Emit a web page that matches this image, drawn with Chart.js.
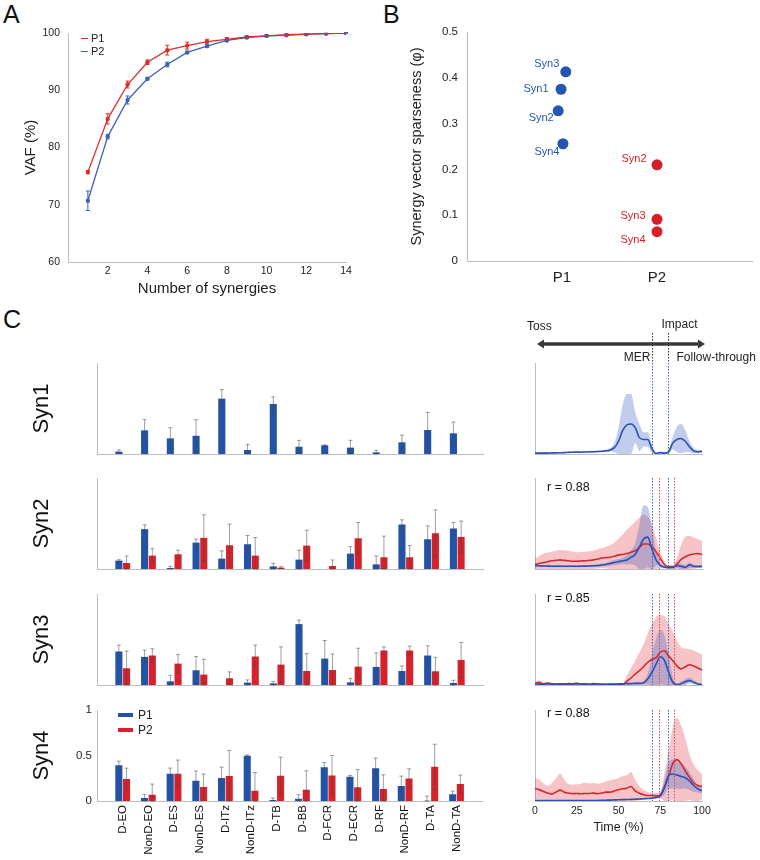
<!DOCTYPE html>
<html>
<head>
<meta charset="utf-8">
<script src="https://cdn.jsdelivr.net/npm/chart.js@4.4.1/dist/chart.umd.min.js"></script>
<style>
  body { margin: 0; background: #fff; font-family: 'Liberation Sans', Arial, Helvetica, sans-serif; color: #222; }
  #fig { position: relative; width: 760px; height: 860px; overflow: hidden; }
  #fig canvas { position: absolute; }
  .lbl { position: absolute; white-space: nowrap; line-height: 1; }
  .panel { font-size: 25px; color: #111; }
  .key { position: absolute; display: flex; align-items: center; line-height: 1; white-space: nowrap; }
  .key i { display: inline-block; }
</style>
</head>
<body>
<div id="fig">
  <div class="lbl panel" style="left:3px;top:2px">A</div>
  <div class="lbl panel" style="left:383px;top:2px">B</div>
  <div class="lbl panel" style="left:3px;top:307px">C</div>

  <canvas id="vafChart" width="370" height="300" style="left:0;top:0"></canvas>
  <canvas id="sparseChart" width="380" height="300" style="left:380px;top:0"></canvas>

  <canvas id="w1Chart" width="500" height="110" style="left:0;top:350px"></canvas>
  <canvas id="w2Chart" width="500" height="110" style="left:0;top:465px"></canvas>
  <canvas id="w3Chart" width="500" height="110" style="left:0;top:581px"></canvas>
  <canvas id="w4Chart" width="500" height="163" style="left:0;top:697px"></canvas>

  <canvas id="c1Chart" width="260" height="150" style="left:500px;top:310px"></canvas>
  <canvas id="c2Chart" width="260" height="110" style="left:500px;top:465px"></canvas>
  <canvas id="c3Chart" width="260" height="110" style="left:500px;top:581px"></canvas>
  <canvas id="c4Chart" width="260" height="163" style="left:500px;top:697px"></canvas>

  <div class="key" style="left:81px;top:33px;font-size:11px"><i style="width:7px;height:1.5px;background:#dc2d2d;margin-right:3px"></i>P1</div>
  <div class="key" style="left:81px;top:46px;font-size:11px"><i style="width:7px;height:1.5px;background:#3d62b8;margin-right:3px"></i>P2</div>

  <div class="key" style="left:118px;top:709px;font-size:12px"><i style="width:15px;height:4px;background:#2353a6;margin-right:5px"></i>P1</div>
  <div class="key" style="left:118px;top:724px;font-size:12px"><i style="width:15px;height:4px;background:#d7222b;margin-right:5px"></i>P2</div>
</div>

<script>
// ---- A: VAF vs number of synergies
const nSyn = [1, 2, 3, 4, 5, 6, 7, 8, 9, 10, 11, 12, 13, 14];
const vafP1 = [75.7, 85.0, 91.0, 94.9, 97.0, 97.8, 98.5, 98.9, 99.3, 99.5, 99.7, 99.8, 99.9, 100];
const vafP1Err = [0.3, 0.9, 0.6, 0.4, 0.85, 0.6, 0.4, 0.3, 0.2, 0.15, 0.1, 0.1, 0.05, 0.05];
const vafP2 = [70.7, 81.9, 88.3, 92.0, 94.5, 96.6, 97.7, 98.7, 99.2, 99.5, 99.6, 99.8, 99.9, 100];
const vafP2Err = [1.7, 0.4, 0.7, 0.2, 0.4, 0.2, 0.2, 0.15, 0.1, 0.1, 0.05, 0.05, 0.05, 0.02];

// ---- B: sparseness (Syn1..Syn4), P2 has no Syn1
const synNames = ["Syn1", "Syn2", "Syn3", "Syn4"];
const groupLabels = ["", "P1", "P2", ""];
const sparseP1 = [0.375, 0.328, 0.413, 0.256];
const sparseP1Jitter = [-0.01, -0.04, 0.04, 0.01];
const sparseP2 = [null, 0.210, 0.091, 0.064];
const sparseP2Jitter = [0, 0, 0, 0];

// ---- C: synergy weights
const muscles = ["D-EO", "NonD-EO", "D-ES", "NonD-ES", "D-ITz", "NonD-ITz", "D-TB", "D-BB", "D-FCR", "D-ECR", "D-RF", "NonD-RF", "D-TA", "NonD-TA"];

const w1P1 = [0.026, 0.26, 0.172, 0.2, 0.608, 0.044, 0.55, 0.08, 0.095, 0.07, 0.018, 0.128, 0.264, 0.227];
const w1P1Sd = [0.02, 0.117, 0.117, 0.177, 0.1, 0.062, 0.077, 0.07, 0.005, 0.08, 0.022, 0.08, 0.194, 0.125];

const w2P1 = [0.092, 0.438, 0.011, 0.29, 0.114, 0.272, 0.029, 0.103, null, 0.169, 0.051, 0.489, 0.327, 0.445];
const w2P1Sd = [0.01, 0.048, 0.018, 0.037, 0.085, 0.096, 0.033, 0.103, null, 0.077, 0.092, 0.051, 0.147, 0.066];
const w2P2 = [0.066, 0.147, 0.162, 0.342, 0.261, 0.147, 0.015, 0.257, 0.033, 0.338, 0.129, 0.129, 0.393, 0.353];
const w2P2Sd = [0.077, 0.077, 0.044, 0.254, 0.232, 0.199, 0.011, 0.169, 0.066, 0.173, 0.232, 0.129, 0.257, 0.173];

const w3P1 = [0.368, 0.309, 0.04, 0.162, null, 0.026, 0.018, 0.669, 0.29, 0.029, 0.199, 0.154, 0.324, 0.022];
const w3P1Sd = [0.07, 0.074, 0.066, 0.15, null, 0.03, 0.022, 0.044, 0.199, 0.044, 0.154, 0.055, 0.107, 0.03];
const w3P2 = [0.184, 0.324, 0.235, 0.114, 0.074, 0.313, 0.224, 0.154, 0.165, 0.202, 0.379, 0.379, 0.151, 0.276];
const w3P2Sd = [0.188, 0.074, 0.099, 0.169, 0.07, 0.125, 0.195, 0.191, 0.176, 0.202, 0.04, 0.048, 0.154, 0.191];

const w4P1 = [0.394, 0.033, 0.3, 0.223, 0.252, 0.496, 0.011, 0.026, 0.372, 0.266, 0.361, 0.164, 0.003, 0.073];
const w4P1Sd = [0.044, 0.04, 0.062, 0.106, 0.12, 0.011, 0.022, 0.044, 0.051, 0.015, 0.11, 0.11, 0.05, 0.036];
const w4P2 = [0.241, 0.069, 0.3, 0.153, 0.274, 0.113, 0.277, 0.124, 0.281, 0.15, 0.131, 0.248, 0.376, 0.186];
const w4P2Sd = [0.12, 0.117, 0.15, 0.142, 0.281, 0.2, 0.204, 0.208, 0.219, 0.197, 0.157, 0.106, 0.248, 0.099];

// ---- C: activation coefficients over the serve (time in %)
const timePct = [0, 2.5, 5, 7.5, 10, 12.5, 15, 17.5, 20, 22.5, 25, 27.5, 30, 32.5, 35, 37.5, 40, 42.5, 45, 47.5,
  50, 52.5, 55, 57.5, 60, 62.5, 65, 67.5, 70, 72.5, 75, 77.5, 80, 82.5, 85, 87.5, 90, 92.5, 95, 97.5, 100];

const c1P1 = [0.010, 0.010, 0.010, 0.010, 0.012, 0.012, 0.014, 0.015, 0.018, 0.020, 0.022, 0.020, 0.022, 0.024, 0.025, 0.027, 0.030, 0.035, 0.045, 0.070,
  0.140, 0.260, 0.320, 0.330, 0.290, 0.180, 0.160, 0.160, 0.060, 0.005, 0.015, 0.010, 0.025, 0.120, 0.160, 0.170, 0.140, 0.080, 0.035, 0.025, 0.030];
const c1P1Sd = [0.005, 0.005, 0.005, 0.005, 0.005, 0.005, 0.006, 0.006, 0.008, 0.008, 0.010, 0.008, 0.008, 0.010, 0.010, 0.010, 0.012, 0.015, 0.020, 0.050,
  0.150, 0.280, 0.340, 0.330, 0.170, 0.150, 0.080, 0.080, 0.050, 0.010, 0.010, 0.010, 0.020, 0.070, 0.140, 0.160, 0.120, 0.060, 0.030, 0.020, 0.020];

const c2P1 = [0.037, 0.035, 0.033, 0.032, 0.030, 0.030, 0.030, 0.030, 0.030, 0.030, 0.030, 0.030, 0.032, 0.033, 0.035, 0.038, 0.044, 0.050, 0.060, 0.072,
  0.080, 0.090, 0.100, 0.130, 0.160, 0.240, 0.330, 0.350, 0.220, 0.100, 0.040, 0.020, 0.015, 0.015, 0.040, 0.030, 0.020, 0.045, 0.030, 0.028, 0.030];
const c2P1Sd = [0.010, 0.010, 0.010, 0.010, 0.010, 0.010, 0.010, 0.010, 0.010, 0.010, 0.010, 0.010, 0.010, 0.012, 0.012, 0.014, 0.016, 0.020, 0.025, 0.030,
  0.030, 0.035, 0.050, 0.080, 0.120, 0.250, 0.370, 0.330, 0.240, 0.100, 0.030, 0.015, 0.010, 0.010, 0.030, 0.030, 0.020, 0.030, 0.020, 0.015, 0.015];
const c2P2 = [0.050, 0.060, 0.070, 0.080, 0.090, 0.095, 0.100, 0.095, 0.090, 0.085, 0.085, 0.088, 0.090, 0.095, 0.100, 0.110, 0.120, 0.125, 0.130, 0.140,
  0.155, 0.160, 0.170, 0.185, 0.200, 0.235, 0.275, 0.275, 0.245, 0.190, 0.120, 0.050, 0.026, 0.026, 0.055, 0.105, 0.135, 0.155, 0.165, 0.170, 0.160];
const c2P2Sd = [0.070, 0.080, 0.100, 0.100, 0.100, 0.105, 0.110, 0.110, 0.110, 0.105, 0.100, 0.100, 0.100, 0.100, 0.100, 0.105, 0.110, 0.120, 0.130, 0.150,
  0.180, 0.220, 0.260, 0.290, 0.320, 0.330, 0.320, 0.300, 0.250, 0.150, 0.070, 0.030, 0.010, 0.010, 0.070, 0.160, 0.220, 0.210, 0.180, 0.160, 0.150];

const c3P1 = [0.012, 0.010, 0.010, 0.012, 0.010, 0.008, 0.010, 0.012, 0.010, 0.010, 0.012, 0.010, 0.010, 0.008, 0.010, 0.010, 0.008, 0.008, 0.010, 0.010,
  0.012, 0.012, 0.015, 0.015, 0.018, 0.018, 0.025, 0.066, 0.140, 0.230, 0.310, 0.270, 0.140, 0.030, 0.005, 0.015, 0.036, 0.048, 0.030, 0.012, 0.005];
const c3P1Sd = [0.008, 0.008, 0.008, 0.008, 0.008, 0.008, 0.008, 0.008, 0.008, 0.008, 0.008, 0.008, 0.008, 0.008, 0.008, 0.008, 0.008, 0.008, 0.008, 0.008,
  0.010, 0.010, 0.010, 0.010, 0.012, 0.012, 0.020, 0.060, 0.180, 0.280, 0.300, 0.280, 0.200, 0.060, 0.010, 0.020, 0.030, 0.035, 0.025, 0.010, 0.005];
const c3P2 = [0.018, 0.030, 0.012, 0.022, 0.012, 0.008, 0.012, 0.004, 0.015, 0.012, 0.018, 0.008, 0.012, 0.004, 0.015, 0.008, 0.008, 0.004, 0.004, 0.002,
  0.002, 0.004, 0.040, 0.077, 0.120, 0.157, 0.200, 0.250, 0.280, 0.300, 0.360, 0.377, 0.320, 0.267, 0.210, 0.176, 0.200, 0.223, 0.210, 0.187, 0.165];
const c3P2Sd = [0.015, 0.020, 0.015, 0.015, 0.012, 0.010, 0.012, 0.010, 0.012, 0.010, 0.012, 0.010, 0.010, 0.008, 0.012, 0.010, 0.008, 0.008, 0.006, 0.005,
  0.005, 0.010, 0.060, 0.110, 0.150, 0.200, 0.250, 0.320, 0.390, 0.450, 0.410, 0.380, 0.350, 0.320, 0.280, 0.240, 0.200, 0.170, 0.170, 0.170, 0.170];

const c4P1 = [0.004, 0.004, 0.004, 0.004, 0.004, 0.004, 0.004, 0.004, 0.004, 0.004, 0.004, 0.004, 0.004, 0.005, 0.006, 0.006, 0.008, 0.009, 0.010, 0.012,
  0.014, 0.015, 0.016, 0.018, 0.020, 0.022, 0.025, 0.027, 0.030, 0.040, 0.060, 0.150, 0.280, 0.296, 0.285, 0.270, 0.256, 0.220, 0.170, 0.134, 0.112];
const c4P1Sd = [0.003, 0.003, 0.003, 0.003, 0.003, 0.003, 0.003, 0.003, 0.003, 0.003, 0.003, 0.003, 0.003, 0.003, 0.003, 0.003, 0.003, 0.003, 0.003, 0.003,
  0.005, 0.005, 0.005, 0.005, 0.005, 0.005, 0.005, 0.005, 0.010, 0.015, 0.030, 0.080, 0.140, 0.160, 0.150, 0.140, 0.120, 0.100, 0.070, 0.040, 0.030];
const c4P2 = [0.134, 0.125, 0.105, 0.087, 0.076, 0.097, 0.120, 0.097, 0.087, 0.080, 0.083, 0.080, 0.083, 0.082, 0.087, 0.080, 0.087, 0.097, 0.097, 0.110,
  0.123, 0.134, 0.140, 0.160, 0.110, 0.085, 0.070, 0.060, 0.060, 0.058, 0.060, 0.150, 0.270, 0.410, 0.455, 0.410, 0.330, 0.260, 0.200, 0.170, 0.160];
const c4P2Sd = [0.120, 0.110, 0.090, 0.080, 0.120, 0.150, 0.180, 0.140, 0.100, 0.100, 0.100, 0.110, 0.120, 0.110, 0.110, 0.110, 0.110, 0.120, 0.130, 0.130,
  0.130, 0.140, 0.145, 0.160, 0.120, 0.080, 0.050, 0.040, 0.030, 0.030, 0.030, 0.160, 0.280, 0.400, 0.460, 0.420, 0.360, 0.250, 0.200, 0.170, 0.140];

// event times (% of serve)
const merP1 = 70, impP1 = 79.5, merP2 = 74.5, impP2 = 83;
const corrR = ["0.88", "0.85", "0.88"];

// ---- styling
const FONT = "'Liberation Sans', Arial, Helvetica, sans-serif";
const axisGray = "#bdbdbd";
const blueBar = "#2353a6", redBar = "#d7222b";
const blueLine = "#2b4fb3", redLine = "#d8262c";
const blueBand = "rgba(60,100,200,0.32)", redBand = "rgba(225,60,70,0.30)";

Chart.defaults.font.family = FONT;
Chart.defaults.color = "#222";
Chart.defaults.animation = false;
Chart.defaults.events = [];
Chart.defaults.plugins.legend.display = false;
Chart.defaults.plugins.tooltip.enabled = false;

const noGrid = { display: false, drawTicks: false };
const axisLine = { display: true, color: axisGray, width: 1 };

// error bars from dataset.errors, drawn through the y scale
const errorBars = {
    id: "errorBars",
    afterDatasetsDraw(chart) {
        const ctx = chart.ctx;
        chart.data.datasets.forEach((ds, di) => {
            if (!ds.errors) return;
            const meta = chart.getDatasetMeta(di);
            const ys = chart.scales[meta.yAxisID];
            ctx.save();
            ctx.strokeStyle = ds.errorColor || "rgba(70,70,70,0.65)";
            ctx.lineWidth = ds.errorWidth || 0.8;
            meta.data.forEach((el, i) => {
                const raw = ds.data[i];
                const v = raw !== null && typeof raw === "object" ? raw.y : raw;
                const e = ds.errors[i];
                if (v == null || e == null) return;
                const y1 = ys.getPixelForValue(Math.max(ys.min, v - e));
                const y2 = ys.getPixelForValue(v + e);
                const x = el.x, c = ds.errorCap || 2;
                ctx.beginPath();
                ctx.moveTo(x, y1); ctx.lineTo(x, y2);
                ctx.moveTo(x - c, y2); ctx.lineTo(x + c, y2);
                ctx.moveTo(x - c, y1); ctx.lineTo(x + c, y1);
                ctx.stroke();
            });
            ctx.restore();
        });
    }
};

// ---- A
new Chart(document.getElementById("vafChart"), {
    type: "line",
    data: {
        datasets: [
            { data: nSyn.map((n, i) => ({ x: n, y: vafP1[i] })), errors: vafP1Err, errorColor: "#dc2d2d", errorWidth: 1,
              borderColor: "#dc2d2d", backgroundColor: "#dc2d2d", borderWidth: 1.3, pointRadius: 2.2, pointBorderWidth: 0 },
            { data: nSyn.map((n, i) => ({ x: n, y: vafP2[i] })), errors: vafP2Err, errorColor: "#3d62b8", errorWidth: 1,
              borderColor: "#3d62b8", backgroundColor: "#3d62b8", borderWidth: 1.3, pointRadius: 2.2, pointBorderWidth: 0 }
        ]
    },
    options: {
        responsive: false,
        layout: { padding: { top: 33, right: 24, left: 0, bottom: 0 } },
        scales: {
            x: {
                type: "linear", min: 0, max: 14,
                grid: noGrid, border: axisLine,
                ticks: { stepSize: 2, padding: 3, font: { size: 10.5 }, callback: v => v === 0 ? "" : v },
                title: { display: true, text: "Number of synergies", font: { size: 15 }, padding: { top: 0, bottom: 2 } },
                afterFit: s => { s.height = 38; }
            },
            y: {
                min: 60, max: 100,
                grid: noGrid, border: axisLine,
                ticks: { stepSize: 10, padding: 8, font: { size: 10.5 } },
                title: { display: true, text: "VAF (%)", font: { size: 15 }, padding: { top: 22, bottom: 0 } },
                afterFit: s => { s.width = 68; }
            }
        }
    },
    plugins: [errorBars]
});

// ---- B
const tagOffsets = {
    P1: { Syn1: [-25, 0], Syn2: [-17, 7], Syn3: [-19, -8], Syn4: [-16, 8] },
    P2: { Syn2: [-23, -6], Syn3: [-24, -3], Syn4: [-24, 8] }
};
const pointTags = {
    id: "pointTags",
    afterDatasetsDraw(chart) {
        const ctx = chart.ctx;
        ctx.save();
        ctx.font = "11px " + FONT;
        ctx.textAlign = "center";
        ctx.textBaseline = "middle";
        chart.data.datasets.forEach((ds, di) => {
            const meta = chart.getDatasetMeta(di);
            meta.data.forEach((pt, i) => {
                if (ds.data[i].y == null) return;
                const off = tagOffsets[ds.label][synNames[i]];
                ctx.fillStyle = ds.backgroundColor;
                ctx.fillText(synNames[i], pt.x + off[0], pt.y + off[1]);
            });
        });
        ctx.restore();
    }
};

new Chart(document.getElementById("sparseChart"), {
    type: "scatter",
    data: {
        datasets: [
            { label: "P1", data: synNames.map((s, i) => ({ x: 1 + sparseP1Jitter[i], y: sparseP1[i] })),
              backgroundColor: "#2456b0", borderColor: "#2456b0", pointRadius: 5.5, pointBorderWidth: 0 },
            { label: "P2", data: synNames.map((s, i) => ({ x: 2 + sparseP2Jitter[i], y: sparseP2[i] })),
              backgroundColor: "#d62027", borderColor: "#d62027", pointRadius: 5.5, pointBorderWidth: 0 }
        ]
    },
    options: {
        responsive: false,
        layout: { padding: { top: 32, right: 5, left: 0, bottom: 0 } },
        scales: {
            x: {
                type: "linear", min: 0, max: 3,
                grid: noGrid, border: axisLine,
                ticks: { stepSize: 1, padding: 8, font: { size: 15 }, callback: v => groupLabels[v] || "" },
                afterFit: s => { s.height = 39; }
            },
            y: {
                min: 0, max: 0.5,
                grid: noGrid, border: axisLine,
                ticks: { stepSize: 0.1, padding: 9, font: { size: 11.5 } },
                title: { display: true, text: "Synergy vector sparseness (φ)", font: { size: 14.5 }, padding: { top: 28, bottom: 0 } },
                afterFit: s => { s.width = 87; }
            }
        }
    },
    plugins: [pointTags]
});

// ---- C: weight bars
function barChart(id, label, p1, p1Sd, p2, p2Sd, last) {
    const pad = a => [null, ...a, null];
    new Chart(document.getElementById(id), {
        type: "bar",
        data: {
            labels: ["", ...muscles, ""],
            datasets: [
                { data: pad(p1), errors: pad(p1Sd), backgroundColor: blueBar, categoryPercentage: 0.6, barPercentage: 0.92 },
                { data: p2 ? pad(p2) : [], errors: p2 ? pad(p2Sd) : null, backgroundColor: redBar, categoryPercentage: 0.6, barPercentage: 0.92 }
            ]
        },
        options: {
            responsive: false,
            layout: { padding: { top: 13, right: 17, left: 0, bottom: 0 } },
            scales: {
                x: {
                    offset: false,
                    grid: noGrid, border: axisLine,
                    ticks: { display: last, autoSkip: false, minRotation: 90, maxRotation: 90, padding: 4, font: { size: 11.5 }, color: "#111" },
                    afterFit: s => { s.height = last ? 59 : 6; }
                },
                y: {
                    min: 0, max: 1,
                    grid: noGrid, border: axisLine,
                    ticks: { display: last, stepSize: 0.5, padding: 5, font: { size: 11.5 }, callback: v => String(v) },
                    title: { display: true, text: label, font: { size: 22 }, color: "#111", padding: { top: 29, bottom: 0 } },
                    afterFit: s => { s.width = 97; }
                }
            }
        },
        plugins: [errorBars]
    });
}

barChart("w1Chart", "Syn1", w1P1, w1P1Sd, null, null, false);
barChart("w2Chart", "Syn2", w2P1, w2P1Sd, w2P2, w2P2Sd, false);
barChart("w3Chart", "Syn3", w3P1, w3P1Sd, w3P2, w3P2Sd, false);
barChart("w4Chart", "Syn4", w4P1, w4P1Sd, w4P2, w4P2Sd, true);

// ---- C: activation time courses
function phaseMarks(cfg) {
    return {
        id: "phaseMarks",
        afterDatasetsDraw(chart) {
            const { ctx, chartArea: a } = chart;
            const xs = chart.scales.x;
            ctx.save();
            ctx.lineWidth = 1;
            ctx.setLineDash([1.5, 1.5]);
            cfg.marks.forEach(m => {
                const px = Math.round(xs.getPixelForValue(m.t)) + 0.5;
                ctx.strokeStyle = m.color;
                ctx.beginPath(); ctx.moveTo(px, a.top); ctx.lineTo(px, a.bottom); ctx.stroke();
            });
            if (cfg.header) {
                const xMer = Math.round(xs.getPixelForValue(merP1)) + 0.5;
                const xImp = Math.round(xs.getPixelForValue(impP1)) + 0.5;
                ctx.strokeStyle = "#333";
                ctx.beginPath();
                ctx.moveTo(xMer, a.top - 30); ctx.lineTo(xMer, a.top);
                ctx.moveTo(xImp, a.top - 30); ctx.lineTo(xImp, a.top);
                ctx.stroke();
                ctx.setLineDash([]);
                // double-headed phase arrow
                const yA = a.top - 19, x0 = a.left + 2, x1 = a.right + 3;
                ctx.strokeStyle = "#3a3a3a";
                ctx.fillStyle = "#3a3a3a";
                ctx.lineWidth = 3.5;
                ctx.beginPath(); ctx.moveTo(x0 + 4, yA); ctx.lineTo(x1 - 4, yA); ctx.stroke();
                ctx.beginPath(); ctx.moveTo(x0, yA); ctx.lineTo(x0 + 7, yA - 4.5); ctx.lineTo(x0 + 7, yA + 4.5); ctx.closePath(); ctx.fill();
                ctx.beginPath(); ctx.moveTo(x1, yA); ctx.lineTo(x1 - 7, yA - 4.5); ctx.lineTo(x1 - 7, yA + 4.5); ctx.closePath(); ctx.fill();
                ctx.fillStyle = "#222";
                ctx.font = "12px " + FONT;
                ctx.textBaseline = "middle";
                ctx.textAlign = "left";
                ctx.fillText("Toss", a.left - 8, a.top - 36);
                ctx.fillText("Impact", xImp - 7, a.top - 38);
                ctx.fillText("Follow-through", xImp + 8, a.top - 5);
                ctx.textAlign = "right";
                ctx.fillText("MER", xMer - 2, a.top - 5);
            }
            ctx.setLineDash([]);
            if (cfg.r) {
                ctx.fillStyle = "#111";
                ctx.font = "12.5px " + FONT;
                ctx.textBaseline = "middle";
                ctx.textAlign = "left";
                ctx.fillText("r = " + cfg.r, a.left + 12, a.top + cfg.rDy);
            }
            ctx.restore();
        }
    };
}

function tsChart(id, rows, cfg, last) {
    const pts = f => timePct.map((t, i) => ({ x: t, y: f(i) }));
    const lines = rows.map(r => ({
        data: pts(i => r.mean[i]), borderColor: r.line, borderWidth: 1.6,
        pointRadius: 0, cubicInterpolationMode: "monotone", fill: false
    }));
    const bands = [];
    rows.forEach(r => {
        bands.push({ data: pts(i => r.mean[i] + r.sd[i]), borderColor: "transparent", borderWidth: 0,
                     pointRadius: 0, backgroundColor: r.band, fill: "+1", cubicInterpolationMode: "monotone" });
        bands.push({ data: pts(i => Math.max(0, r.mean[i] - r.sd[i])), borderColor: "transparent", borderWidth: 0,
                     pointRadius: 0, fill: false, cubicInterpolationMode: "monotone" });
    });
    new Chart(document.getElementById(id), {
        type: "line",
        data: { datasets: [...lines, ...bands] },
        options: {
            responsive: false,
            layout: { padding: { top: cfg.top, right: 58, left: 0, bottom: 0 } },
            scales: {
                x: {
                    type: "linear", min: 0, max: 100,
                    grid: noGrid, border: axisLine,
                    ticks: { display: last, stepSize: 25, padding: 4, font: { size: 10.5 } },
                    title: { display: last, text: "Time (%)", font: { size: 12.5 }, padding: { top: 0, bottom: 25 } },
                    afterFit: s => { s.height = last ? 59 : 6; }
                },
                y: {
                    min: 0, max: 1,
                    grid: noGrid, border: axisLine,
                    ticks: { display: false },
                    afterFit: s => { s.width = 35; }
                }
            }
        },
        plugins: [phaseMarks(cfg)]
    });
}

const p1Marks = [{ t: merP1, color: "#3d5fc0" }, { t: impP1, color: "#3d5fc0" }];
const bothMarks = [...p1Marks, { t: merP2, color: "#e0474c" }, { t: impP2, color: "#e0474c" }];

tsChart("c1Chart", [{ mean: c1P1, sd: c1P1Sd, line: blueLine, band: blueBand }],
        { top: 53, marks: p1Marks, header: true }, false);
tsChart("c2Chart", [{ mean: c2P1, sd: c2P1Sd, line: blueLine, band: blueBand }, { mean: c2P2, sd: c2P2Sd, line: redLine, band: redBand }],
        { top: 13, marks: bothMarks, r: corrR[0], rDy: 10 }, false);
tsChart("c3Chart", [{ mean: c3P1, sd: c3P1Sd, line: blueLine, band: blueBand }, { mean: c3P2, sd: c3P2Sd, line: redLine, band: redBand }],
        { top: 13, marks: bothMarks, r: corrR[1], rDy: 5 }, false);
tsChart("c4Chart", [{ mean: c4P1, sd: c4P1Sd, line: blueLine, band: blueBand }, { mean: c4P2, sd: c4P2Sd, line: redLine, band: redBand }],
        { top: 13, marks: bothMarks, r: corrR[2], rDy: 4 }, true);
</script>
</body>
</html>
